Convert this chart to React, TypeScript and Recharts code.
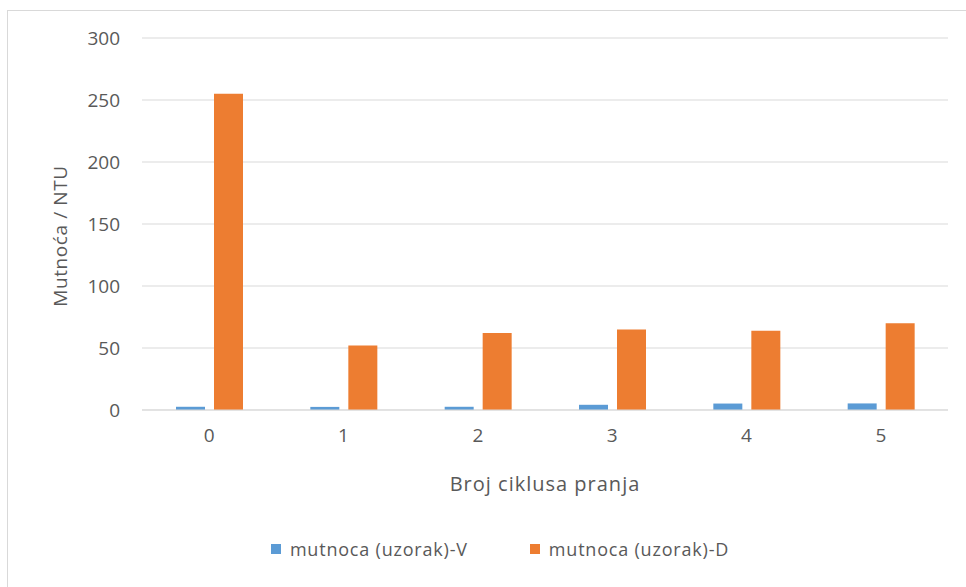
import { Bar, BarChart, CartesianGrid, Legend, XAxis, YAxis } from "recharts";

const cycles = ["0", "1", "2", "3", "4", "5"];
const turbidityV = [2.6, 2.5, 2.6, 4.2, 5.2, 5.3];
const turbidityD = [255, 52, 62, 65, 64, 70];
const yTicks = [0, 50, 100, 150, 200, 250, 300];
const seriesNames = ["mutnoca (uzorak)-V", "mutnoca (uzorak)-D"];

const data = cycles.map((c, i) => ({
  cycle: c,
  v: turbidityV[i],
  d: turbidityD[i],
}));

const FONT = "'Open Sans', 'Noto Sans', sans-serif";
const TEXT = "#595959";

function YLabel(props: any) {
  const vb = props.viewBox || {};
  const cx = vb.x + 60;
  const cy = vb.y + vb.height / 2 + 12;
  return (
    <text
      x={cx}
      y={cy}
      transform={`rotate(-90 ${cx} ${cy})`}
      textAnchor="middle"
      dominantBaseline="central"
      fill={TEXT}
      fontSize={19}
      letterSpacing={0.6}
      fontFamily={FONT}
    >
      Mutnoća / NTU
    </text>
  );
}

function LegendBox(props: any) {
  const items = [...(props.payload || [])].sort(
    (a: any, b: any) => seriesNames.indexOf(a.value) - seriesNames.indexOf(b.value)
  );
  return (
    <div
      style={{
        display: "flex",
        justifyContent: "center",
        gap: 62,
        fontFamily: FONT,
        fontSize: 18,
        letterSpacing: 0.8,
        color: TEXT,
      }}
    >
      {items.map((it: any) => (
        <div key={it.value} style={{ display: "flex", alignItems: "center", gap: 9 }}>
          <span style={{ width: 10, height: 10, background: it.color, display: "inline-block" }} />
          <span>{it.value}</span>
        </div>
      ))}
    </div>
  );
}

export default function App() {
  return (
    <div style={{ position: "absolute", left: 0, top: 0, width: 966, height: 587, background: "#fff" }}>
      <div
        style={{
          position: "absolute",
          left: 7,
          top: 10,
          width: 966,
          height: 590,
          border: "1px solid #d9d9d9",
          boxSizing: "border-box",
        }}
      />
      <BarChart
        width={966}
        height={587}
        data={data}
        margin={{ top: 38, right: 18, left: 0, bottom: 0 }}
        barSize={29}
        barGap={9}
        style={{ position: "absolute", left: 0, top: 0 }}
      >
        <CartesianGrid vertical={false} stroke="#d9d9d9" />
        <XAxis
          dataKey="cycle"
          height={107}
          tickLine={false}
          axisLine={{ stroke: "#d9d9d9" }}
          tickMargin={13}
          tick={{ fill: TEXT, fontSize: 19, fontFamily: FONT }}
          label={{
            value: "Broj ciklusa pranja",
            position: "insideBottom",
            offset: 26,
            fill: TEXT,
            fontSize: 20,
            letterSpacing: 1,
            fontFamily: FONT,
          }}
        />
        <YAxis
          width={142}
          domain={[0, 300]}
          ticks={yTicks}
          tickLine={false}
          axisLine={false}
          tickSize={0}
          tickMargin={22}
          tick={{ fill: TEXT, fontSize: 19, fontFamily: FONT }}
          label={<YLabel />}
        />
        <Legend
          verticalAlign="bottom"
          height={70}
          content={<LegendBox />}
          wrapperStyle={{ left: 0, width: 1000, top: 537 }}
        />
        <Bar dataKey="v" name={seriesNames[0]} fill="#5B9BD5" isAnimationActive={false} />
        <Bar dataKey="d" name={seriesNames[1]} fill="#ED7D31" isAnimationActive={false} />
      </BarChart>
    </div>
  );
}
